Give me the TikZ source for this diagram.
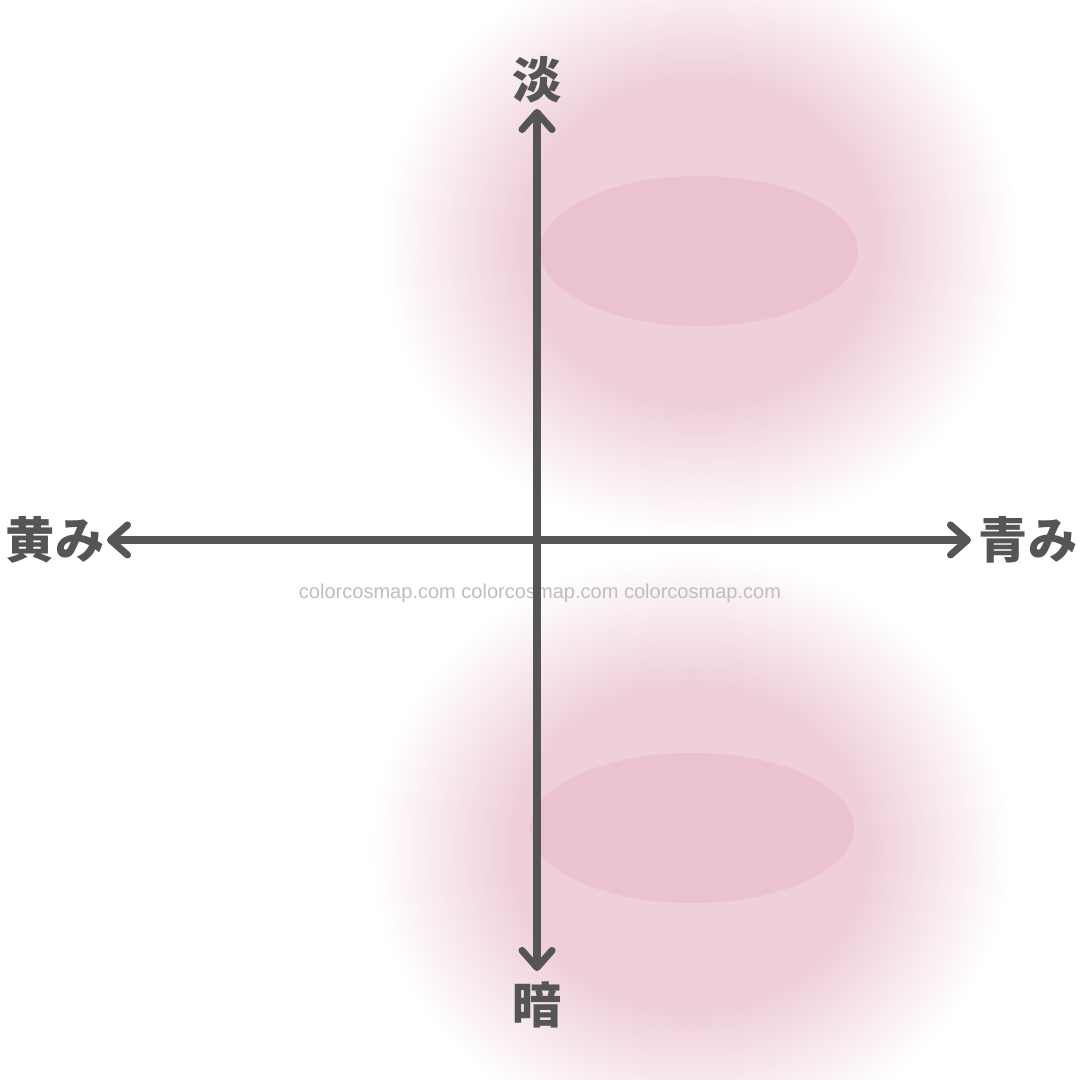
\documentclass[tikz,border=0pt]{standalone}
\usepackage{fontspec}
\usetikzlibrary{arrows.meta}
\newfontfamily\jpfont{Noto Sans CJK JP}
\newfontfamily\wmfont{Liberation Sans}

\definecolor{axisgray}{RGB}{85,85,85}
\definecolor{blobpink}{RGB}{239,208,217}
\definecolor{corepink}{RGB}{235,195,206}
\definecolor{markgray}{RGB}{190,190,190}

\pgfdeclareradialshading{blobshade}{\pgfpointorigin}{%
  color(0bp)=(blobpink); color(14bp)=(blobpink); color(20bp)=(blobpink!45);
  color(25bp)=(white); color(50bp)=(white)}

\tikzset{
  axis/.style={draw=axisgray, line width=2pt,
    {Straight Barb[length=1.7mm, width=3mm, round]}-{Straight Barb[length=1.7mm, width=3mm, round]}},
  axislabel/.style={text=axisgray, font=\jpfont\bfseries\fontsize{14}{14}\selectfont, inner sep=0pt},
  blob/.style={shading=blobshade},
  core/.style={fill=corepink},
  watermark/.style={text=markgray, font=\wmfont\fontsize{5.7}{6}\selectfont, inner sep=0pt}
}

\begin{document}
\begin{tikzpicture}

  \useasboundingbox (0,0) rectangle (10.8,10.8);
  \fill[white] (0,0) rectangle (10.8,10.8);

  % soft areas
  \shade[blob] (7.00,8.38) ellipse (3.2cm and 2.95cm);
  \shade[blob] (6.90,2.32) ellipse (3.2cm and 2.95cm);
  \fill[core] (6.99,8.29) ellipse (1.59cm and 0.75cm);
  \fill[core] (6.92,2.52) ellipse (1.62cm and 0.75cm);

  \node[watermark] (mark) at (5.40,4.87) {colorcosmap.com colorcosmap.com colorcosmap.com};

  \coordinate (north) at (5.37,9.71);
  \coordinate (south) at (5.37,1.09);
  \coordinate (west) at (1.07,5.40);
  \coordinate (east) at (9.71,5.40);

  \draw[axis] (west) -- (east);
  \draw[axis] (north) -- (south);

  \node[axislabel] (pale) at (5.37,10.00) {淡};
  \node[axislabel] (dark) at (5.37,0.75) {暗};
  \node[axislabel] (yellow) at (0.55,5.40) {黄み};
  \node[axislabel] (blue) at (10.28,5.40) {青み};

\end{tikzpicture}
\end{document}
